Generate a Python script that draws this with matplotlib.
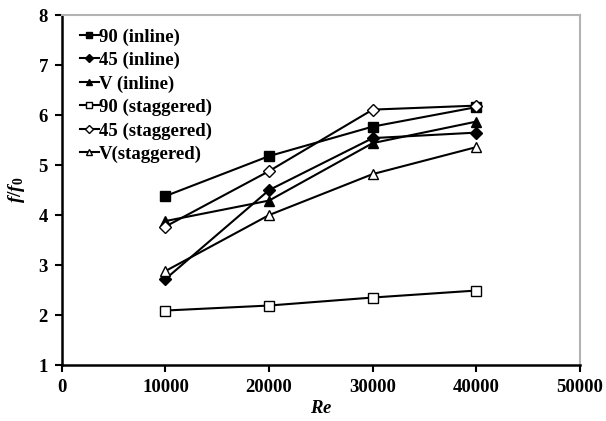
import numpy as np
import matplotlib
matplotlib.use("Agg")
import matplotlib.pyplot as plt

plt.rcParams['font.family'] = ['Liberation Serif', 'DejaVu Serif']
plt.rcParams['font.weight'] = 'bold'
plt.rcParams['mathtext.fontset'] = 'custom'
plt.rcParams['mathtext.it'] = 'Liberation Serif:italic'
plt.rcParams['mathtext.rm'] = 'Liberation Serif'
plt.rcParams['mathtext.bf'] = 'Liberation Serif:italic:bold'

re_vals = [10000, 20000, 30000, 40000]
inline_90 = [4.38, 5.18, 5.77, 6.16]
inline_45 = [2.72, 4.50, 5.54, 5.65]
inline_v = [3.88, 4.29, 5.44, 5.87]
stag_90 = [2.09, 2.19, 2.35, 2.49]
stag_45 = [3.77, 4.88, 6.11, 6.19]
stag_v = [2.88, 4.00, 4.82, 5.36]

series = [
    ("90 (inline)", inline_90, 's', 'black'),
    ("45 (inline)", inline_45, 'D', 'black'),
    ("V (inline)", inline_v, '^', 'black'),
    ("90 (staggered)", stag_90, 's', 'white'),
    ("45 (staggered)", stag_45, 'D', 'white'),
    ("V(staggered)", stag_v, '^', 'white'),
]

fig = plt.figure(figsize=(6.06, 4.21), dpi=100)
ax = fig.add_axes([0.102, 0.133, 0.855, 0.831])

for label, vals, mk, fc in series:
    ms = 6.5 if mk == 'D' else 7
    ax.plot(re_vals, vals, color='black', lw=1.5, marker=mk, ms=ms,
            mfc=fc, mec='black', mew=1.0, label=label)

ax.set_xlim(0, 50000)
ax.set_ylim(1, 8)
ax.set_xticks(np.arange(0, 50001, 10000))
ax.set_yticks(np.arange(1, 9, 1))
ax.tick_params(direction='out', length=5, width=1.5, labelsize=13.5, pad=5)
for s in ['left', 'bottom']:
    ax.spines[s].set_linewidth(1.8)
for s in ['top', 'right']:
    ax.spines[s].set_color('#b3b3b3')
    ax.spines[s].set_linewidth(1.5)

ax.set_xlabel(r'$\mathbf{Re}$', fontsize=13.5, labelpad=3)
ax.set_ylabel(r'$\mathit{f/f}_\mathrm{0}$', fontsize=14, labelpad=8)

ax.legend(loc='upper left', frameon=False, fontsize=13.5, handlelength=1.0,
          handletextpad=0.0, labelspacing=0.33, borderaxespad=0.3,
          markerscale=0.7, bbox_to_anchor=(0.01, 1.0))

fig.savefig("out.png", dpi=100)
